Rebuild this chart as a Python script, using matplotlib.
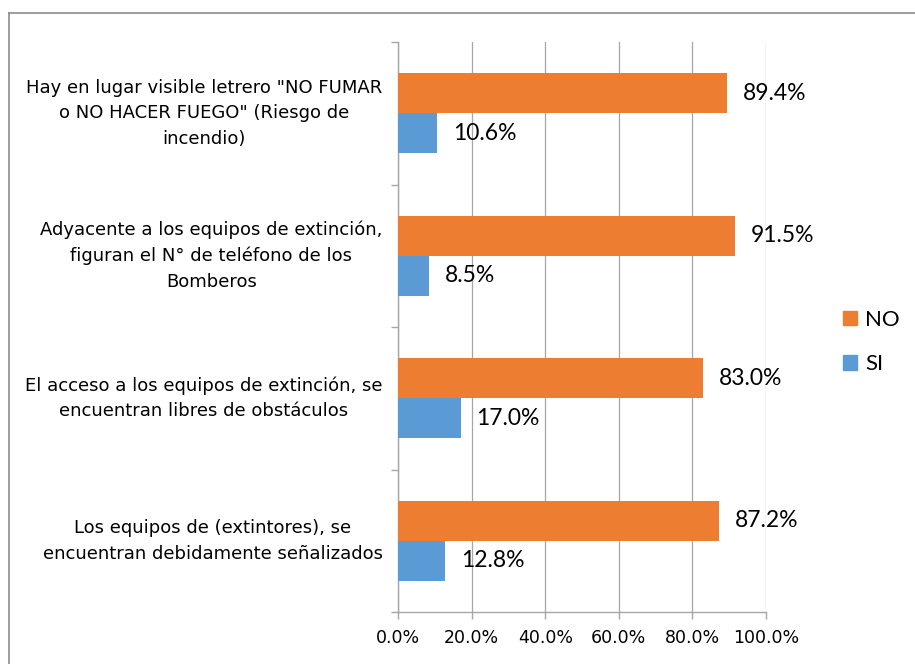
import matplotlib.pyplot as plt
import matplotlib.patches as patches
from matplotlib.lines import Line2D
from matplotlib.ticker import PercentFormatter
import numpy as np

categories = [
    'Hay en lugar visible letrero "NO FUMAR\no NO HACER FUEGO" (Riesgo de\nincendio)',
    'Adyacente a los equipos de extinción,\nfiguran el N° de teléfono de los\nBomberos',
    'El acceso a los equipos de extinción, se\nencuentran libres de obstáculos',
    'Los equipos de (extintores), se\nencuentran debidamente señalizados',
]
no_vals = [89.4, 91.5, 83.0, 87.2]
si_vals = [10.6, 8.5, 17.0, 12.8]
x_ticks = [0, 20, 40, 60, 80, 100]

c_no = '#ED7D31'
c_si = '#5B9BD5'
grid_c = '#A6A6A6'
narrow = ['Liberation Sans Narrow', 'DejaVu Sans Condensed', 'DejaVu Sans']
value_font = ['Lato', 'DejaVu Sans']

W, H = 915, 664
fig = plt.figure(figsize=(W / 100, H / 100), dpi=100)
ax = fig.add_axes([398 / W, 1 - 612 / H, 368 / W, 570 / H])

y = np.arange(len(categories))
h = 0.28
ax.barh(y - 0.14, no_vals, height=h, color=c_no, zorder=3)
ax.barh(y + 0.14, si_vals, height=h, color=c_si, zorder=3)

# value labels to the right of each bar
for yi, v in list(zip(y - 0.14, no_vals)) + list(zip(y + 0.14, si_vals)):
    ax.text(v + 4.3, yi, f'{v:.1f}%', va='center', ha='left', fontsize=16.5,
            family=value_font, color='#000000', zorder=4)

ax.set_xlim(0, 100)
ax.set_ylim(len(categories) - 0.5, -0.5)
ax.set_xticks(x_ticks)
ax.xaxis.set_major_formatter(PercentFormatter(decimals=1))
for lab in ax.get_xticklabels():
    lab.set_family(narrow)
    lab.set_fontsize(12.5)
ax.tick_params(axis='x', length=5, color=grid_c, width=1, pad=7)
ax.grid(axis='x', color=grid_c, linewidth=0.9, zorder=0)

# category boundaries as left ticks, labels drawn as text
ax.set_yticks(np.arange(-0.5, len(categories), 1))
ax.set_yticklabels([])
ax.tick_params(axis='y', length=5, color=grid_c, width=1)
for yi, lab in zip(y, categories):
    ax.text(-4.2, yi, lab, ha='right', va='center', fontsize=13,
            family=narrow, multialignment='center', linespacing=1.55)

for s in ['top', 'right']:
    ax.spines[s].set_visible(False)
for s in ['left', 'bottom']:
    ax.spines[s].set_color(grid_c)
    ax.spines[s].set_linewidth(1)

handles = [patches.Patch(color=c_no, label='NO'),
           patches.Patch(color=c_si, label='SI')]
fig.legend(handles=handles, loc='center left',
           bbox_to_anchor=(823 / W, 1 - 342 / H), frameon=False,
           prop={'family': value_font, 'size': 16}, handlelength=0.65,
           handleheight=0.65, labelspacing=1.1, handletextpad=0.35)

# chart frame (only top and left edges fall inside the image)
fig.add_artist(Line2D([9 / W, 1], [1 - 13 / H, 1 - 13 / H], transform=fig.transFigure,
                      color='#8C8C8C', linewidth=1.2))
fig.add_artist(Line2D([9 / W, 9 / W], [0, 1 - 13 / H], transform=fig.transFigure,
                      color='#8C8C8C', linewidth=1.2))

fig.savefig('out.png', dpi=100, facecolor='white')
